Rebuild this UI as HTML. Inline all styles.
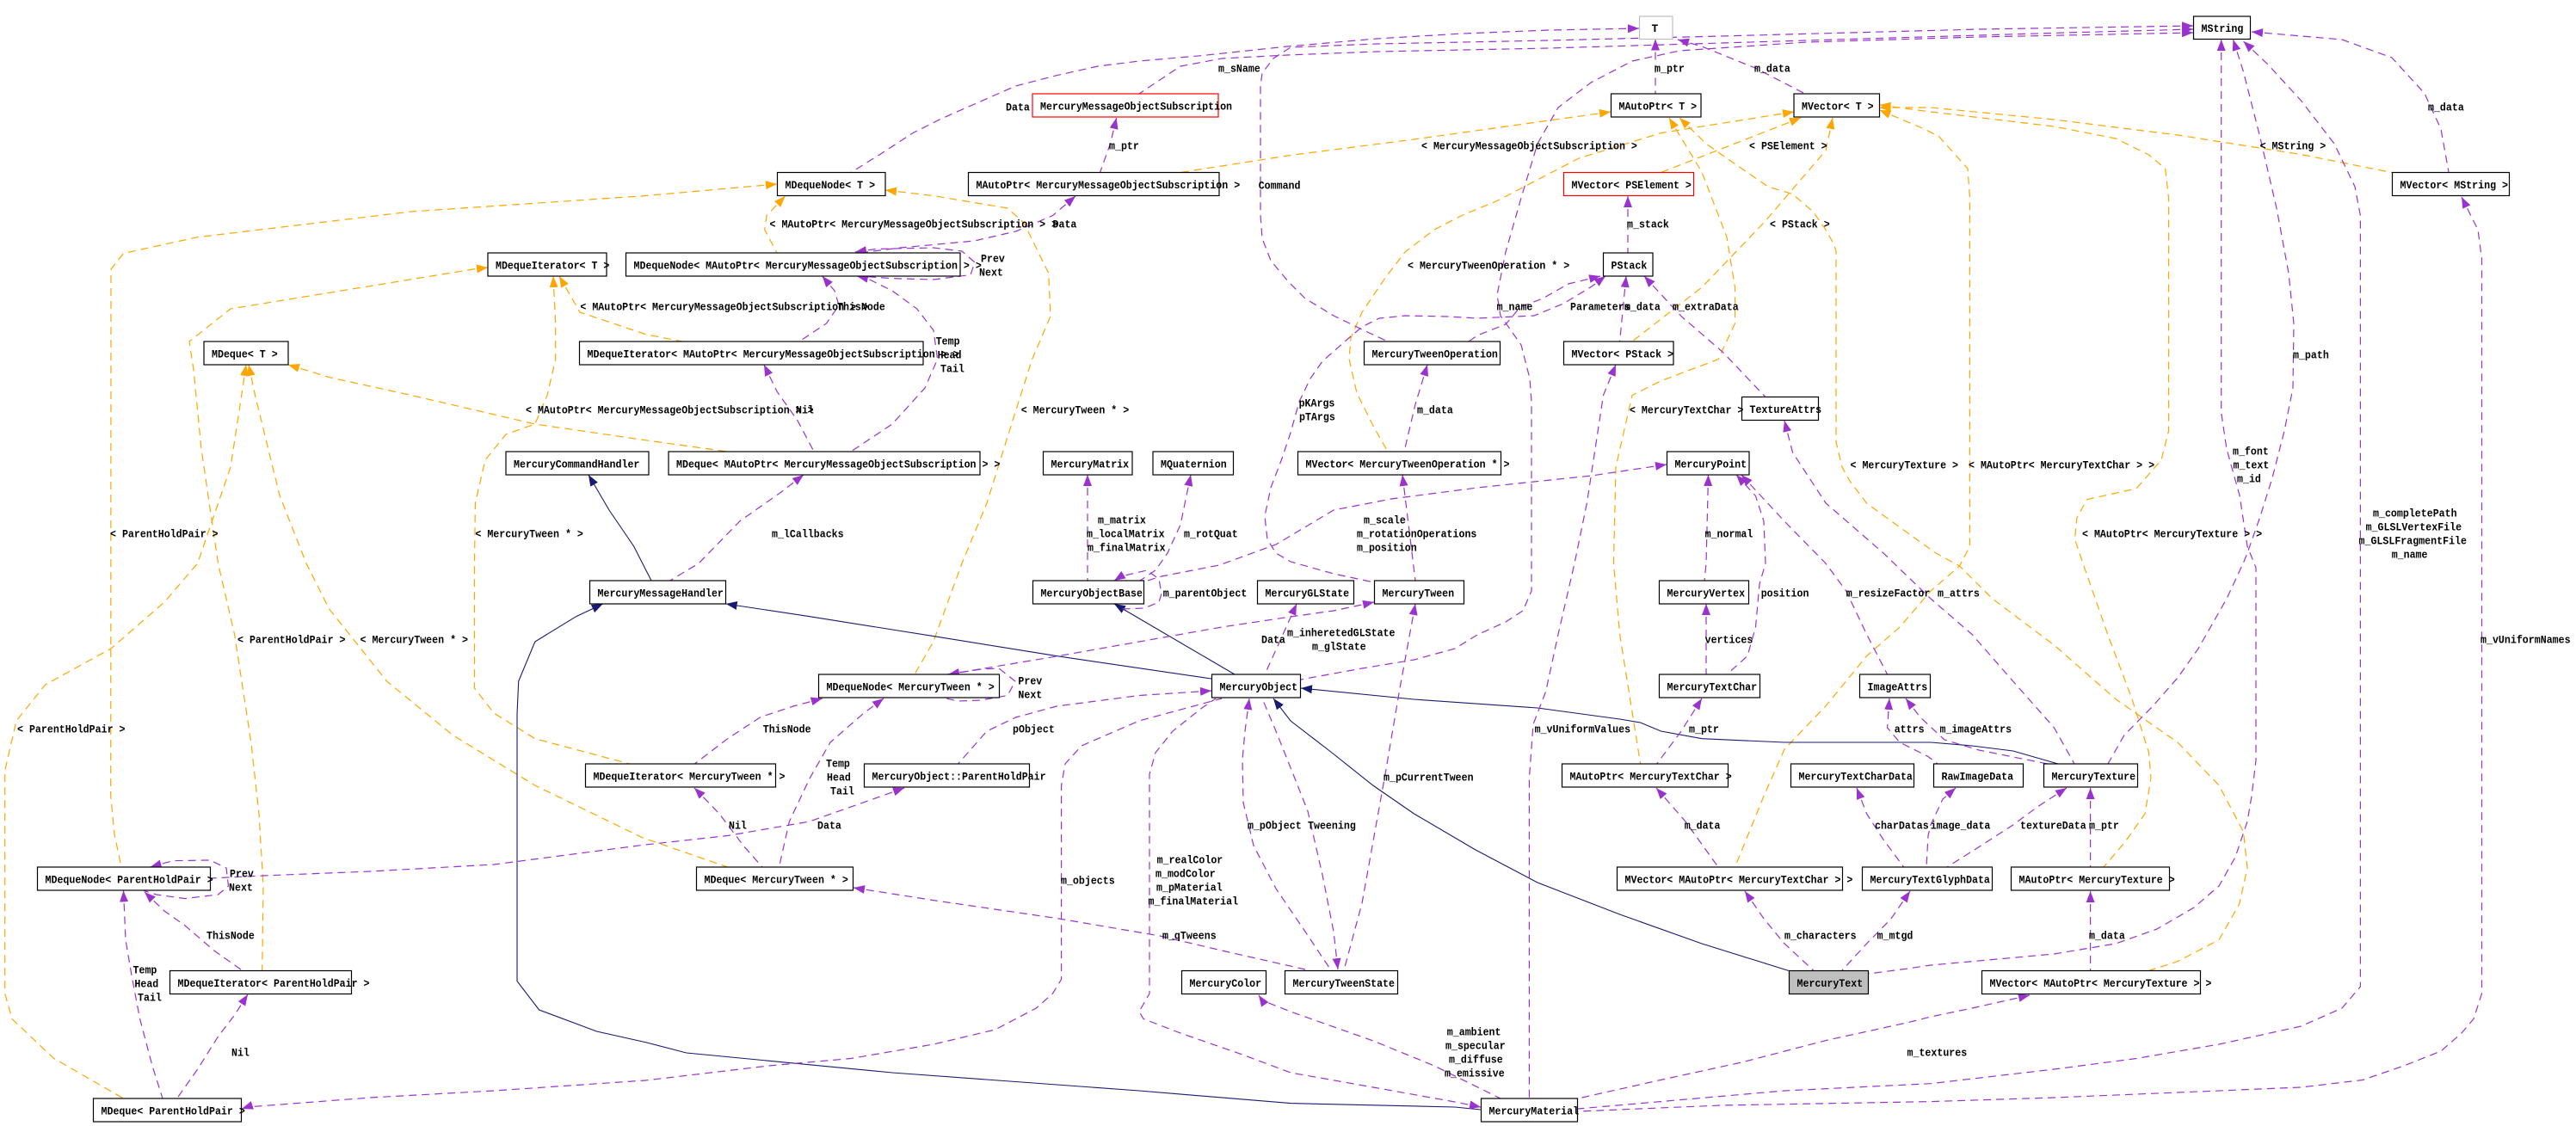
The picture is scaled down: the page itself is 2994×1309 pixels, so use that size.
<!DOCTYPE html>
<html><head><meta charset="utf-8"><style>
html,body{margin:0;padding:0;background:#fff;}
svg{display:block;}
.t{font-family:"Liberation Mono","DejaVu Sans Mono",monospace;font-size:13px;font-weight:bold;fill:#000;}
.p{fill:none;stroke:#9a32cd;stroke-width:1.2;stroke-dasharray:9,6;marker-start:url(#ap);}
.o{fill:none;stroke:#ffa500;stroke-width:1.2;stroke-dasharray:9,6;marker-start:url(#ao);}
.n{fill:none;stroke:#191970;stroke-width:1.1;marker-start:url(#an);}
.b{fill:#fff;stroke:#000;stroke-width:1.2;}
</style></head><body>
<svg width="2994" height="1309" viewBox="0 0 2994 1309" xmlns="http://www.w3.org/2000/svg">
<defs>
<marker id="ap" markerWidth="14" markerHeight="11" refX="13" refY="5" orient="auto-start-reverse" markerUnits="userSpaceOnUse"><path d="M0,0 L13,5 L0,10 z" fill="#9a32cd"/></marker>
<marker id="ao" markerWidth="14" markerHeight="11" refX="13" refY="5" orient="auto-start-reverse" markerUnits="userSpaceOnUse"><path d="M0,0 L13,5 L0,10 z" fill="#ffa500"/></marker>
<marker id="an" markerWidth="14" markerHeight="11" refX="13" refY="5" orient="auto-start-reverse" markerUnits="userSpaceOnUse"><path d="M0,0 L13,5 L0,10 z" fill="#191970"/></marker>
</defs>
<rect width="2994" height="1309" fill="#fff"/>

<!-- ORANGE EDGES -->
<path class="o" d="M903,214 L750,227.6 L478,246 L229.6,275.7 L143.5,294.5 L129,313 L128.7,925 L133,970 L141,1008"/>
<path class="o" d="M567,311 L550,313 L268,359 L220,397 L225,430 L234,522 L253.5,655 L272.6,737.5 L291.8,863 L301,946 L306,1030 L304.7,1128.5"/>
<path class="o" d="M286,424 L282,451 L268,543 L229.6,655 L191,700 L129,754 L52.6,796 L19,838 L5.7,896 L5.7,1155 L14,1184.5 L62,1230 L143.5,1277"/>
<path class="o" d="M289,424 L296.5,459.5 L325,576 L356,655 L382.6,708 L449.6,792 L526,854.5 L621.8,913 L746,973.5 L845.7,1008"/>
<path class="o" d="M643,321 L645.7,376 L645.7,417.7 L636,459.5 L621.8,493 L588,505 L564,534.7 L552.4,584.8 L551.5,655 L551.5,800 L574,829 L621.8,858.7 L731.8,888"/>
<path class="o" d="M650,321 L674,363 L750,388.5 L793,397"/>
<path class="o" d="M335,424 L382.6,438.6 L478,459.5 L621.8,493 L750,511.7 L845.7,525"/>
<path class="o" d="M912.6,228 L891,250.6 L888.7,267 L903,294"/>
<path class="o" d="M1029,221 L1085,227.6 L1171,242 L1190,259 L1218.7,317.5 L1221,367.6 L1199.6,417.7 L1175.7,493 L1147,584.8 L1118,655 L1084.8,746 L1063,784"/>
<path class="o" d="M1872,130 L1643.5,162 L1500,180.5 L1371.8,200.5"/>
<path class="o" d="M2085,130 L1930.5,154.6 L1835,184 L1739,234 L1700,250 L1667,267 L1633,293 L1610,323 L1583,363 L1570,393 L1568,417 L1577,457 L1597,497 L1613,525"/>
<path class="o" d="M2093,137 L1930.5,200.5"/>
<path class="o" d="M2130,137 L2122,175 L2050,259 L1978,334 L1897,397"/>
<path class="o" d="M1940,137 L1978,200 L2007,275.7 L2016.5,334 L2016.5,376 L1997,417.7 L1930.5,442.8 L1897,459.5 L1878,543 L1875.5,655 L1882.6,737.5 L1906.6,888"/>
<path class="o" d="M1952,137 L1983,167 L2007,184 L2031,200.5 L2055,217 L2083.5,225.6 L2107.5,246.4 L2122,267 L2131.5,284 L2134,292 L2134,514 L2141,543 L2150.5,560 L2169.6,585 L2198,605.7 L2227,626.6 L2250,643 L2277.5,658 L2315.7,696 L2387.5,750 L2459,812.7 L2531,863 L2579,913 L2607.5,967 L2612,1009 L2602.7,1051 L2579,1092.6 L2531,1117.7 L2497.5,1128.5"/>
<path class="o" d="M2184.5,128 L2236.6,150 L2253.6,158.7 L2287,196 L2289.4,230 L2289.4,635 L2277.5,658 L2244,687 L2208,729 L2169.6,762.6 L2121.8,821 L2074,871 L2050,925.5 L2016.5,1008"/>
<path class="o" d="M2184.5,122 L2244,130 L2387.5,147 L2459,161 L2497.5,180 L2516.6,196 L2520.5,230 L2520.5,501 L2512,534.7 L2483,568 L2425.8,580.6 L2414,601.5 L2411.4,626.6 L2421,655 L2449.7,737.5 L2478,812.7 L2497.5,875 L2500,904.6 L2493,946 L2469,980 L2445,1008"/>
<path class="o" d="M2184.5,125 L2244,125 L2387.5,139 L2531,157 L2674.5,179.6 L2780,200.5"/>

<!-- NAVY EDGES -->
<path class="n" d="M684,552 L708,593 L736.6,635 L757,675"/>
<path class="n" d="M843.7,702 L941,716.7 L1085,739.6 L1228,762.6 L1408,789"/>
<path class="n" d="M700.7,702 L669.6,716.7 L621.8,746 L602.7,792 L601,830 L601,1140.6 L626.6,1174 L693.5,1199 L750,1211.6 L797.8,1224 L1037,1247 L1324,1268 L1500,1282.6 L1691,1287 L1721,1290"/>
<path class="n" d="M1295,702 L1435,784"/>
<path class="n" d="M1480,812 L1500,838 L1548,875 L1595.7,913 L1643.5,946 L1715,988 L1787,1026 L1882.6,1063 L1978,1097 L2079,1128.5"/>
<path class="n" d="M1512,800 L1643.5,813 L1787,823 L1882.6,836 L1906.6,840 L1930.5,850 L1978,858.7 L2074,863 L2244,863 L2292,867 L2339.7,873 L2392,888"/>

<!-- PURPLE EDGES -->
<path class="p" d="M1905,33 L1800,35 L1700,39 L1600,45 L1496,54 L1396,64.7 L1324,71 L1276,77 L1228,87.7 L1180.5,100 L1132.6,121 L1094,138 L1061,154.6 L1022.6,179.6 L989,200.5"/>
<path class="p" d="M1924,45.5 L1924,109"/>
<path class="p" d="M1950,46 L1978,54 L2040,79 L2098,109"/>
<path class="p" d="M2549,34 L2400,38 L2200,44 L2000,50 L1800,56 L1600,60 L1496,64 L1420,68 L1372,77 L1324,109"/>
<path class="p" d="M2549,30 L2300,34 L2000,42 L1800,47 L1600,51 L1500,55 L1480,68 L1467,85 L1465,100 L1465,250 L1467,277 L1477,303 L1497,327 L1517,347 L1550,367 L1583,383 L1613,397"/>
<path class="p" d="M2549,38 L2300,43 L2100,49 L1952,59 L1897,71 L1849,96 L1811,125 L1787,167 L1768,230 L1750,293 L1740,343 L1744,367 L1768,401 L1778,440 L1780,467 L1780,687 L1770,710 L1750,723 L1717,738 L1691,754 L1643.5,767 L1583,777 L1550,783 L1512,790"/>
<path class="p" d="M2617,37 L2722,46 L2780,67 L2818,108.6 L2837,150 L2846,200"/>
<path class="p" d="M2595.5,46 L2607.5,83.5 L2626.6,158.7 L2646,242 L2660,317.5 L2666,376 L2665,451 L2655,501 L2641,555.6 L2626.6,601.5 L2612,643 L2607.5,654 L2588,696 L2555,754 L2531,788 L2502,821 L2469,854.5 L2450,888"/>
<path class="p" d="M2581.7,46 L2581.7,480 L2588,522 L2603,576 L2612,635 L2622,660 L2622,884 L2617,925.5 L2612,955 L2598,996.5 L2579,1030 L2550,1055 L2507,1080 L2459,1097 L2387.5,1109 L2292,1117.7 L2244,1122 L2217.5,1126 L2171.5,1132"/>
<path class="p" d="M2607.5,48 L2636,75 L2674.5,117 L2713,167 L2737,217 L2743.4,250.6 L2743.4,1147 L2722,1172 L2674.5,1193 L2579,1214 L2483,1230.5 L2387.5,1243 L2244,1259.7 L2074,1268 L1930,1280.6 L1834,1289"/>
<path class="p" d="M2861,229 L2880,267 L2884.5,301 L2884.5,1155 L2875,1184.5 L2861,1201 L2837,1222 L2794,1239 L2746,1255.5 L2674.5,1264 L2531,1270 L2387.5,1276 L2244,1280.6 L2000,1285 L1834,1292"/>
<path class="p" d="M2359,1157 L2292,1172 L2244,1182 L2217.5,1188.7 L2122,1209.6 L2026,1234.6 L1930,1255.5 L1834,1277"/>
<path class="p" d="M1892,228 L1892,294"/>
<path class="p" d="M1860,321 L1823,330 L1793,347 L1767,357 L1750,377 L1717,390 L1707,397"/>
<path class="p" d="M1866,321 L1850,333 L1817,353 L1783,367 L1717,370 L1683,368 L1633,367 L1603,370 L1583,380 L1563,397 L1537,420 L1523,440 L1510,467 L1500,503 L1490,533 L1477,567 L1470,600 L1473,627 L1483,643 L1500,653 L1550,667 L1597,677"/>
<path class="p" d="M1890,321 L1882.6,397"/>
<path class="p" d="M1911,321 L1954,367.6 L2002,409 L2052,461.6"/>
<path class="p" d="M1659,424 L1645,470 L1632,525"/>
<path class="p" d="M1630,552 L1634,585 L1645,675"/>
<path class="p" d="M1264,552 L1264,675"/>
<path class="p" d="M1384,552 L1372,610 L1357,643 L1343,663 L1325,675"/>
<path class="p" d="M1937,540 L1850,553 L1783,560 L1717,567 L1617,580 L1550,593 L1483,633 L1417,657 L1350,670 L1330,676"/>
<path class="p" d="M1295,675 L1303,670 L1333,663 L1347,673 L1350,690 L1347,700 L1330,707 L1303,708"/>
<path class="p" d="M1507,702 L1490,740 L1470,784"/>
<path class="p" d="M1597,700 L1550,710 L1500,717 L1420,729 L1324,746 L1228,763 L1132,779 L1101,784"/>
<path class="p" d="M1102,784 L1140,778 L1161,777 L1180,792 L1171,808.5 L1140,814 L1113,815 L1100,812"/>
<path class="p" d="M955.7,812 L922,821 L884,833.6 L845.7,858.7 L807.4,888"/>
<path class="p" d="M1027,812 L1003.5,829.4 L965,863 L941,905 L917.4,955 L905.5,1008"/>
<path class="p" d="M807,916 L812,921 L836,946 L864.8,984 L886,1008"/>
<path class="p" d="M992,1032 L1085,1046.6 L1228,1067.5 L1348,1088 L1420,1105 L1517,1127"/>
<path class="p" d="M1408,803 L1324,808.5 L1228,821 L1180.5,834 L1147,850 L1113.5,888"/>
<path class="p" d="M1051,916 L1037,921 L941,955 L845.7,971.5 L750,982 L574,1005 L430.5,1013 L306,1018 L244.4,1021"/>
<path class="p" d="M281,1289 L287,1287 L430.5,1276 L574,1268 L750,1256 L893.5,1239 L989,1230.5 L1085,1214 L1156.6,1197 L1204.4,1172 L1223.5,1155 L1233.6,1138.5 L1233.6,913 L1238,888 L1257,867 L1324,838 L1420,812"/>
<path class="p" d="M1721,1287 L1691,1281 L1596,1264 L1500,1247 L1444,1226 L1372,1201 L1329,1184.5 L1324,1176 L1336,1155 L1336,900 L1343,875 L1363,850 L1397,823 L1413,812"/>
<path class="p" d="M1463,1157 L1467,1163 L1500,1176 L1596,1210 L1667,1239 L1744,1277"/>
<path class="p" d="M1645,702 L1627,800 L1610,900 L1583,1050 L1562,1128"/>
<path class="p" d="M1452,812 L1447,850 L1444,883 L1445,933 L1457,983 L1483,1033 L1517,1083 L1547,1128"/>
<path class="p" d="M1555,1127 L1550,1083 L1537,1017 L1520,943 L1503,900 L1483,850 L1467,812"/>
<path class="p" d="M1878,424 L1863.5,459.5 L1854,522 L1844.4,584.8 L1830,655 L1811,737.5 L1796.6,804 L1782,842 L1777.4,904.6 L1777.4,1277"/>
<path class="p" d="M1985.5,552 L1983,655 L1981,675"/>
<path class="p" d="M1983,702 L1983,784"/>
<path class="p" d="M2018,552 L2040.5,576.5 L2050,606 L2052,655 L2045,679 L2040.5,729 L2031,762.6 L2007,784"/>
<path class="p" d="M2024,552 L2074,606 L2122,655 L2145.7,687 L2169.6,737.5 L2193.6,784"/>
<path class="p" d="M1978,812 L1954,850 L1925.7,888"/>
<path class="p" d="M1925,916 L1959,955 L1997,1008"/>
<path class="p" d="M2028,1036 L2050,1068 L2074,1097 L2107.5,1128"/>
<path class="p" d="M2220,1036 L2198,1068 L2169.6,1097 L2141,1128"/>
<path class="p" d="M2158,916 L2169.6,946 L2188.7,975.6 L2212.7,1008"/>
<path class="p" d="M2273,916 L2258,929 L2244,959 L2241,971.5 L2239,1008"/>
<path class="p" d="M2402,916 L2368,938 L2339.7,959 L2301,984 L2263,1008"/>
<path class="p" d="M2429.6,916 L2429.6,1008"/>
<path class="p" d="M2429.6,1036 L2429.6,1128"/>
<path class="p" d="M2196,812 L2193.6,846 L2208,863 L2241,879.5 L2252,888"/>
<path class="p" d="M2215,812 L2232,834 L2260,860 L2300,872 L2380,888"/>
<path class="p" d="M2074,489 L2083.5,526 L2122,584.8 L2189,643 L2244,696 L2292,737.5 L2339.7,792 L2387.5,846 L2411,888"/>
<path class="p" d="M994,293 L1018,289.5 L1085,288 L1118,292 L1133,305 L1128,319.5 L1085,325 L1037,323.7 L999,321"/>
<path class="p" d="M1250,228 L1223.5,250.6 L1180.5,269 L1132.6,280 L1046.6,288 L998.7,294"/>
<path class="p" d="M1297.6,137 L1290.5,167 L1278.5,200.5"/>
<path class="p" d="M955.7,321 L970,338 L975,355 L960.5,376 L929,397"/>
<path class="p" d="M996,321 L1008,323.7 L1037,338 L1065.7,359 L1085,384 L1089.6,417.7 L1075,451 L1037,493 L989,525"/>
<path class="p" d="M888,424 L903,455 L927,489 L946,525"/>
<path class="p" d="M934,552 L908,572 L860,605.7 L812,655 L778.7,675"/>
<path class="p" d="M174.6,1008 L201,1000.6 L244,1000 L263,1009 L265.5,1030 L253.5,1040 L215,1044.6 L181.8,1040 L167,1035.4"/>
<path class="p" d="M143.5,1035.4 L146,1092.6 L153,1134 L162.6,1184.5 L177,1239 L189,1277"/>
<path class="p" d="M168,1037 L191,1059 L215,1076 L248.7,1105 L282,1128.5"/>
<path class="p" d="M288,1156 L272.6,1180 L253.5,1205 L229.6,1243 L205.7,1277"/>

<!-- BOXES -->
<rect x="1905.5" y="19" width="38.5" height="26.5" fill="#fff" stroke="#bfbfbf" stroke-width="1.2"/><text class="t" x="1919.5" y="37">T</text>
<rect class="b" x="2549.5" y="19" width="66" height="26.5"/><text class="t" x="2558.5" y="37" textLength="48.8" lengthAdjust="spacingAndGlyphs">MString</text>
<rect x="1200" y="109" width="216" height="27" fill="#fff" stroke="#ff0000" stroke-width="1.2"/><text class="t" x="1209" y="127.7" textLength="223" lengthAdjust="spacingAndGlyphs">MercuryMessageObjectSubscription</text>
<rect class="b" x="1872.5" y="109" width="104.5" height="27"/><text class="t" x="1881.5" y="127.7" textLength="90.6" lengthAdjust="spacingAndGlyphs">MAutoPtr&lt; T &gt;</text>
<rect class="b" x="2085" y="109" width="99.5" height="27"/><text class="t" x="2094" y="127.7" textLength="83.6" lengthAdjust="spacingAndGlyphs">MVector&lt; T &gt;</text>
<rect class="b" x="903.5" y="200.5" width="125.5" height="27"/><text class="t" x="912.5" y="219.2" textLength="104.6" lengthAdjust="spacingAndGlyphs">MDequeNode&lt; T &gt;</text>
<rect class="b" x="1125.5" y="200.5" width="291.5" height="27"/><text class="t" x="1134.5" y="219.2" textLength="306.7" lengthAdjust="spacingAndGlyphs">MAutoPtr&lt; MercuryMessageObjectSubscription &gt;</text>
<rect x="1817.5" y="200.5" width="151" height="27" fill="#fff" stroke="#ff0000" stroke-width="1.2"/><text class="t" x="1826.5" y="219.2" textLength="139.4" lengthAdjust="spacingAndGlyphs">MVector&lt; PSElement &gt;</text>
<rect class="b" x="2780.5" y="200.5" width="136" height="27"/><text class="t" x="2789.5" y="219.2" textLength="125.5" lengthAdjust="spacingAndGlyphs">MVector&lt; MString &gt;</text>
<rect class="b" x="567" y="294" width="138" height="27"/><text class="t" x="576" y="312.7" textLength="132.4" lengthAdjust="spacingAndGlyphs">MDequeIterator&lt; T &gt;</text>
<rect class="b" x="727.5" y="294" width="388.5" height="27"/><text class="t" x="736.5" y="312.7" textLength="404.3" lengthAdjust="spacingAndGlyphs">MDequeNode&lt; MAutoPtr&lt; MercuryMessageObjectSubscription &gt; &gt;</text>
<rect class="b" x="1863.5" y="294" width="57.5" height="27"/><text class="t" x="1872.5" y="312.7" textLength="41.8" lengthAdjust="spacingAndGlyphs">PStack</text>
<rect class="b" x="237" y="397" width="98" height="27"/><text class="t" x="246" y="415.7" textLength="76.7" lengthAdjust="spacingAndGlyphs">MDeque&lt; T &gt;</text>
<rect class="b" x="673.5" y="397" width="399.5" height="27"/><text class="t" x="682.5" y="415.7" textLength="432.1" lengthAdjust="spacingAndGlyphs">MDequeIterator&lt; MAutoPtr&lt; MercuryMessageObjectSubscription &gt; &gt;</text>
<rect class="b" x="1585.5" y="397" width="158" height="27"/><text class="t" x="1594.5" y="415.7" textLength="146.4" lengthAdjust="spacingAndGlyphs">MercuryTweenOperation</text>
<rect class="b" x="1817.5" y="397" width="127.5" height="27"/><text class="t" x="1826.5" y="415.7" textLength="118.5" lengthAdjust="spacingAndGlyphs">MVector&lt; PStack &gt;</text>
<rect class="b" x="2024.5" y="461.5" width="89" height="27"/><text class="t" x="2033.5" y="480.2" textLength="83.6" lengthAdjust="spacingAndGlyphs">TextureAttrs</text>
<rect class="b" x="588" y="525" width="166" height="27"/><text class="t" x="597" y="543.7" textLength="146.4" lengthAdjust="spacingAndGlyphs">MercuryCommandHandler</text>
<rect class="b" x="777" y="525" width="362" height="27"/><text class="t" x="786" y="543.7" textLength="376.4" lengthAdjust="spacingAndGlyphs">MDeque&lt; MAutoPtr&lt; MercuryMessageObjectSubscription &gt; &gt;</text>
<rect class="b" x="1212.5" y="525" width="103.5" height="27"/><text class="t" x="1221.5" y="543.7" textLength="90.6" lengthAdjust="spacingAndGlyphs">MercuryMatrix</text>
<rect class="b" x="1340" y="525" width="93.5" height="27"/><text class="t" x="1349" y="543.7" textLength="76.7" lengthAdjust="spacingAndGlyphs">MQuaternion</text>
<rect class="b" x="1508.5" y="525" width="236" height="27"/><text class="t" x="1517.5" y="543.7" textLength="237" lengthAdjust="spacingAndGlyphs">MVector&lt; MercuryTweenOperation * &gt;</text>
<rect class="b" x="1937.5" y="525" width="95.5" height="27"/><text class="t" x="1946.5" y="543.7" textLength="83.6" lengthAdjust="spacingAndGlyphs">MercuryPoint</text>
<rect class="b" x="685.5" y="675" width="158" height="27"/><text class="t" x="694.5" y="693.7" textLength="146.4" lengthAdjust="spacingAndGlyphs">MercuryMessageHandler</text>
<rect class="b" x="1200.5" y="675" width="129" height="27"/><text class="t" x="1209.5" y="693.7" textLength="118.5" lengthAdjust="spacingAndGlyphs">MercuryObjectBase</text>
<rect class="b" x="1461.5" y="675" width="112" height="27"/><text class="t" x="1470.5" y="693.7" textLength="97.6" lengthAdjust="spacingAndGlyphs">MercuryGLState</text>
<rect class="b" x="1597.5" y="675" width="104" height="27"/><text class="t" x="1606.5" y="693.7" textLength="83.6" lengthAdjust="spacingAndGlyphs">MercuryTween</text>
<rect class="b" x="1928.5" y="675" width="104" height="27"/><text class="t" x="1937.5" y="693.7" textLength="90.6" lengthAdjust="spacingAndGlyphs">MercuryVertex</text>
<rect class="b" x="951.5" y="784" width="210" height="27"/><text class="t" x="960.5" y="802.7" textLength="195.2" lengthAdjust="spacingAndGlyphs">MDequeNode&lt; MercuryTween * &gt;</text>
<rect class="b" x="1408.5" y="784" width="103" height="27"/><text class="t" x="1417.5" y="802.7" textLength="90.6" lengthAdjust="spacingAndGlyphs">MercuryObject</text>
<rect class="b" x="1928.5" y="784" width="117" height="27"/><text class="t" x="1937.5" y="802.7" textLength="104.6" lengthAdjust="spacingAndGlyphs">MercuryTextChar</text>
<rect class="b" x="2161.5" y="784" width="82" height="27"/><text class="t" x="2170.5" y="802.7" textLength="69.7" lengthAdjust="spacingAndGlyphs">ImageAttrs</text>
<rect class="b" x="680.5" y="888" width="221" height="27"/><text class="t" x="689.5" y="906.7" textLength="223" lengthAdjust="spacingAndGlyphs">MDequeIterator&lt; MercuryTween * &gt;</text>
<rect class="b" x="1004.5" y="888" width="192" height="27"/><text class="t" x="1013.5" y="906.7" textLength="202.1" lengthAdjust="spacingAndGlyphs">MercuryObject::ParentHoldPair</text>
<rect class="b" x="1815.5" y="888" width="193" height="27"/><text class="t" x="1824.5" y="906.7" textLength="188.2" lengthAdjust="spacingAndGlyphs">MAutoPtr&lt; MercuryTextChar &gt;</text>
<rect class="b" x="2081.5" y="888" width="143" height="27"/><text class="t" x="2090.5" y="906.7" textLength="132.4" lengthAdjust="spacingAndGlyphs">MercuryTextCharData</text>
<rect class="b" x="2247.5" y="888" width="104" height="27"/><text class="t" x="2256.5" y="906.7" textLength="83.6" lengthAdjust="spacingAndGlyphs">RawImageData</text>
<rect class="b" x="2375.5" y="888" width="109" height="27"/><text class="t" x="2384.5" y="906.7" textLength="97.6" lengthAdjust="spacingAndGlyphs">MercuryTexture</text>
<rect class="b" x="43.5" y="1008" width="201" height="27"/><text class="t" x="52.5" y="1026.7" textLength="195.2" lengthAdjust="spacingAndGlyphs">MDequeNode&lt; ParentHoldPair &gt;</text>
<rect class="b" x="809.5" y="1008" width="182" height="27"/><text class="t" x="818.5" y="1026.7" textLength="167.3" lengthAdjust="spacingAndGlyphs">MDeque&lt; MercuryTween * &gt;</text>
<rect class="b" x="1879.5" y="1008" width="262" height="27"/><text class="t" x="1888.5" y="1026.7" textLength="264.9" lengthAdjust="spacingAndGlyphs">MVector&lt; MAutoPtr&lt; MercuryTextChar &gt; &gt;</text>
<rect class="b" x="2164.5" y="1008" width="151" height="27"/><text class="t" x="2173.5" y="1026.7" textLength="139.4" lengthAdjust="spacingAndGlyphs">MercuryTextGlyphData</text>
<rect class="b" x="2337.5" y="1008" width="184" height="27"/><text class="t" x="2346.5" y="1026.7" textLength="181.2" lengthAdjust="spacingAndGlyphs">MAutoPtr&lt; MercuryTexture &gt;</text>
<rect class="b" x="197.5" y="1128.5" width="211" height="27"/><text class="t" x="206.5" y="1147.2" textLength="223" lengthAdjust="spacingAndGlyphs">MDequeIterator&lt; ParentHoldPair &gt;</text>
<rect class="b" x="1373.5" y="1128.5" width="98" height="27"/><text class="t" x="1382.5" y="1147.2" textLength="83.6" lengthAdjust="spacingAndGlyphs">MercuryColor</text>
<rect class="b" x="1493.5" y="1128.5" width="131" height="27"/><text class="t" x="1502.5" y="1147.2" textLength="118.5" lengthAdjust="spacingAndGlyphs">MercuryTweenState</text>
<rect x="2079.5" y="1128.5" width="92" height="27" fill="#bfbfbf" stroke="#000" stroke-width="1.2"/><text class="t" x="2088.5" y="1147.2" textLength="76.7" lengthAdjust="spacingAndGlyphs">MercuryText</text>
<rect class="b" x="2303.5" y="1128.5" width="254" height="27"/><text class="t" x="2312.5" y="1147.2" textLength="257.9" lengthAdjust="spacingAndGlyphs">MVector&lt; MAutoPtr&lt; MercuryTexture &gt; &gt;</text>
<rect class="b" x="108.5" y="1277" width="172" height="27"/><text class="t" x="117.5" y="1295.7" textLength="167.3" lengthAdjust="spacingAndGlyphs">MDeque&lt; ParentHoldPair &gt;</text>
<rect class="b" x="1721.5" y="1277" width="112" height="27"/><text class="t" x="1730.5" y="1295.7" textLength="104.6" lengthAdjust="spacingAndGlyphs">MercuryMaterial</text>

<!-- EDGE LABELS -->
<g class="t">
<text x="1169" y="128.6" textLength="27.9" lengthAdjust="spacingAndGlyphs">Data</text>
<text x="1416" y="83.6" textLength="48.8" lengthAdjust="spacingAndGlyphs">m_sName</text>
<text x="1289" y="173.6" textLength="34.9" lengthAdjust="spacingAndGlyphs">m_ptr</text>
<text x="1462.7" y="219.6" textLength="48.8" lengthAdjust="spacingAndGlyphs">Command</text>
<text x="1923" y="83.6" textLength="34.9" lengthAdjust="spacingAndGlyphs">m_ptr</text>
<text x="2039" y="83.6" textLength="41.8" lengthAdjust="spacingAndGlyphs">m_data</text>
<text x="1652" y="173.6" textLength="250.9" lengthAdjust="spacingAndGlyphs">&lt; MercuryMessageObjectSubscription &gt;</text>
<text x="2033" y="173.6" textLength="90.6" lengthAdjust="spacingAndGlyphs">&lt; PSElement &gt;</text>
<text x="2626.6" y="173.6" textLength="76.7" lengthAdjust="spacingAndGlyphs">&lt; MString &gt;</text>
<text x="2822" y="128.6" textLength="41.8" lengthAdjust="spacingAndGlyphs">m_data</text>
<text x="894.5" y="264.6" textLength="334.6" lengthAdjust="spacingAndGlyphs">&lt; MAutoPtr&lt; MercuryMessageObjectSubscription &gt; &gt;</text>
<text x="1223.5" y="264.6" textLength="27.9" lengthAdjust="spacingAndGlyphs">Data</text>
<text x="1891" y="264.6" textLength="48.8" lengthAdjust="spacingAndGlyphs">m_stack</text>
<text x="2057" y="264.6" textLength="69.7" lengthAdjust="spacingAndGlyphs">&lt; PStack &gt;</text>
<text x="1140" y="304.6" textLength="27.9" lengthAdjust="spacingAndGlyphs">Prev</text>
<text x="1138" y="320.6" textLength="27.9" lengthAdjust="spacingAndGlyphs">Next</text>
<text x="1636" y="312.6" textLength="188.2" lengthAdjust="spacingAndGlyphs">&lt; MercuryTweenOperation * &gt;</text>
<text x="674.4" y="360.6" textLength="334.6" lengthAdjust="spacingAndGlyphs">&lt; MAutoPtr&lt; MercuryMessageObjectSubscription &gt; &gt;</text>
<text x="973" y="360.6" textLength="55.8" lengthAdjust="spacingAndGlyphs">ThisNode</text>
<text x="1739.6" y="360.6" textLength="41.8" lengthAdjust="spacingAndGlyphs">m_name</text>
<text x="1825" y="360.6" textLength="69.7" lengthAdjust="spacingAndGlyphs">Parameters</text>
<text x="1888" y="360.6" textLength="41.8" lengthAdjust="spacingAndGlyphs">m_data</text>
<text x="1944" y="360.6" textLength="76.7" lengthAdjust="spacingAndGlyphs">m_extraData</text>
<text x="1087.7" y="400.6" textLength="27.9" lengthAdjust="spacingAndGlyphs">Temp</text>
<text x="1089.6" y="416.6" textLength="27.9" lengthAdjust="spacingAndGlyphs">Head</text>
<text x="1093" y="432.6" textLength="27.9" lengthAdjust="spacingAndGlyphs">Tail</text>
<text x="2665" y="416.6" textLength="41.8" lengthAdjust="spacingAndGlyphs">m_path</text>
<text x="1509.6" y="472.6" textLength="41.8" lengthAdjust="spacingAndGlyphs">pKArgs</text>
<text x="1510" y="488.6" textLength="41.8" lengthAdjust="spacingAndGlyphs">pTArgs</text>
<text x="611" y="480.6" textLength="334.6" lengthAdjust="spacingAndGlyphs">&lt; MAutoPtr&lt; MercuryMessageObjectSubscription &gt; &gt;</text>
<text x="925" y="480.6" textLength="20.9" lengthAdjust="spacingAndGlyphs">Nil</text>
<text x="1186.7" y="480.6" textLength="125.5" lengthAdjust="spacingAndGlyphs">&lt; MercuryTween * &gt;</text>
<text x="1647" y="480.6" textLength="41.8" lengthAdjust="spacingAndGlyphs">m_data</text>
<text x="1894" y="480.6" textLength="132.4" lengthAdjust="spacingAndGlyphs">&lt; MercuryTextChar &gt;</text>
<text x="2595" y="528.6" textLength="41.8" lengthAdjust="spacingAndGlyphs">m_font</text>
<text x="2150.5" y="544.6" textLength="125.5" lengthAdjust="spacingAndGlyphs">&lt; MercuryTexture &gt;</text>
<text x="2288" y="544.6" textLength="216.1" lengthAdjust="spacingAndGlyphs">&lt; MAutoPtr&lt; MercuryTextChar &gt; &gt;</text>
<text x="2595.5" y="544.6" textLength="41.8" lengthAdjust="spacingAndGlyphs">m_text</text>
<text x="2600" y="560.6" textLength="27.9" lengthAdjust="spacingAndGlyphs">m_id</text>
<text x="2758" y="600.6" textLength="97.6" lengthAdjust="spacingAndGlyphs">m_completePath</text>
<text x="2749.6" y="616.6" textLength="111.5" lengthAdjust="spacingAndGlyphs">m_GLSLVertexFile</text>
<text x="2741.5" y="632.6" textLength="125.5" lengthAdjust="spacingAndGlyphs">m_GLSLFragmentFile</text>
<text x="2779.7" y="648.6" textLength="41.8" lengthAdjust="spacingAndGlyphs">m_name</text>
<text x="1276" y="608.6" textLength="55.8" lengthAdjust="spacingAndGlyphs">m_matrix</text>
<text x="1263" y="624.6" textLength="90.6" lengthAdjust="spacingAndGlyphs">m_localMatrix</text>
<text x="1264" y="640.6" textLength="90.6" lengthAdjust="spacingAndGlyphs">m_finalMatrix</text>
<text x="1376" y="624.6" textLength="62.7" lengthAdjust="spacingAndGlyphs">m_rotQuat</text>
<text x="1585" y="608.6" textLength="48.8" lengthAdjust="spacingAndGlyphs">m_scale</text>
<text x="1577" y="624.6" textLength="139.4" lengthAdjust="spacingAndGlyphs">m_rotationOperations</text>
<text x="1577" y="640.6" textLength="69.7" lengthAdjust="spacingAndGlyphs">m_position</text>
<text x="1981.6" y="624.6" textLength="55.8" lengthAdjust="spacingAndGlyphs">m_normal</text>
<text x="897" y="624.6" textLength="83.6" lengthAdjust="spacingAndGlyphs">m_lCallbacks</text>
<text x="128" y="624.6" textLength="125.5" lengthAdjust="spacingAndGlyphs">&lt; ParentHoldPair &gt;</text>
<text x="552.4" y="624.6" textLength="125.5" lengthAdjust="spacingAndGlyphs">&lt; MercuryTween * &gt;</text>
<text x="2420" y="624.6" textLength="209.1" lengthAdjust="spacingAndGlyphs">&lt; MAutoPtr&lt; MercuryTexture &gt; &gt;</text>
<text x="1351.7" y="693.6" textLength="97.6" lengthAdjust="spacingAndGlyphs">m_parentObject</text>
<text x="2046.7" y="693.6" textLength="55.8" lengthAdjust="spacingAndGlyphs">position</text>
<text x="2145.7" y="693.6" textLength="97.6" lengthAdjust="spacingAndGlyphs">m_resizeFactor</text>
<text x="2252" y="693.6" textLength="48.8" lengthAdjust="spacingAndGlyphs">m_attrs</text>
<text x="1496" y="739.6" textLength="125.5" lengthAdjust="spacingAndGlyphs">m_inheretedGLState</text>
<text x="1525" y="755.6" textLength="62.7" lengthAdjust="spacingAndGlyphs">m_glState</text>
<text x="1466" y="747.6" textLength="27.9" lengthAdjust="spacingAndGlyphs">Data</text>
<text x="1981.6" y="747.6" textLength="55.8" lengthAdjust="spacingAndGlyphs">vertices</text>
<text x="276" y="747.6" textLength="125.5" lengthAdjust="spacingAndGlyphs">&lt; ParentHoldPair &gt;</text>
<text x="418.5" y="747.6" textLength="125.5" lengthAdjust="spacingAndGlyphs">&lt; MercuryTween * &gt;</text>
<text x="2883" y="747.6" textLength="104.6" lengthAdjust="spacingAndGlyphs">m_vUniformNames</text>
<text x="1183.4" y="795.6" textLength="27.9" lengthAdjust="spacingAndGlyphs">Prev</text>
<text x="1183.4" y="811.6" textLength="27.9" lengthAdjust="spacingAndGlyphs">Next</text>
<text x="20" y="851.6" textLength="125.5" lengthAdjust="spacingAndGlyphs">&lt; ParentHoldPair &gt;</text>
<text x="886.8" y="851.6" textLength="55.8" lengthAdjust="spacingAndGlyphs">ThisNode</text>
<text x="1177" y="851.6" textLength="48.8" lengthAdjust="spacingAndGlyphs">pObject</text>
<text x="1783.6" y="851.6" textLength="111.5" lengthAdjust="spacingAndGlyphs">m_vUniformValues</text>
<text x="1963" y="851.6" textLength="34.9" lengthAdjust="spacingAndGlyphs">m_ptr</text>
<text x="2201.7" y="851.6" textLength="34.9" lengthAdjust="spacingAndGlyphs">attrs</text>
<text x="2254.5" y="851.6" textLength="83.6" lengthAdjust="spacingAndGlyphs">m_imageAttrs</text>
<text x="960" y="891.6" textLength="27.9" lengthAdjust="spacingAndGlyphs">Temp</text>
<text x="961" y="907.6" textLength="27.9" lengthAdjust="spacingAndGlyphs">Head</text>
<text x="965" y="923.6" textLength="27.9" lengthAdjust="spacingAndGlyphs">Tail</text>
<text x="1608" y="907.6" textLength="104.6" lengthAdjust="spacingAndGlyphs">m_pCurrentTween</text>
<text x="847" y="963.6" textLength="20.9" lengthAdjust="spacingAndGlyphs">Nil</text>
<text x="950" y="963.6" textLength="27.9" lengthAdjust="spacingAndGlyphs">Data</text>
<text x="1450" y="963.6" textLength="62.7" lengthAdjust="spacingAndGlyphs">m_pObject</text>
<text x="1520" y="963.6" textLength="55.8" lengthAdjust="spacingAndGlyphs">Tweening</text>
<text x="1957.7" y="963.6" textLength="41.8" lengthAdjust="spacingAndGlyphs">m_data</text>
<text x="2179" y="963.6" textLength="62.7" lengthAdjust="spacingAndGlyphs">charDatas</text>
<text x="2243.7" y="963.6" textLength="69.7" lengthAdjust="spacingAndGlyphs">image_data</text>
<text x="2348" y="963.6" textLength="76.7" lengthAdjust="spacingAndGlyphs">textureData</text>
<text x="2428" y="963.6" textLength="34.9" lengthAdjust="spacingAndGlyphs">m_ptr</text>
<text x="1344.6" y="1003.6" textLength="76.7" lengthAdjust="spacingAndGlyphs">m_realColor</text>
<text x="1343" y="1019.6" textLength="69.7" lengthAdjust="spacingAndGlyphs">m_modColor</text>
<text x="1344" y="1035.6" textLength="76.7" lengthAdjust="spacingAndGlyphs">m_pMaterial</text>
<text x="1334.5" y="1051.6" textLength="104.6" lengthAdjust="spacingAndGlyphs">m_finalMaterial</text>
<text x="267" y="1019.6" textLength="27.9" lengthAdjust="spacingAndGlyphs">Prev</text>
<text x="266" y="1035.6" textLength="27.9" lengthAdjust="spacingAndGlyphs">Next</text>
<text x="1233" y="1027.6" textLength="62.7" lengthAdjust="spacingAndGlyphs">m_objects</text>
<text x="240" y="1091.6" textLength="55.8" lengthAdjust="spacingAndGlyphs">ThisNode</text>
<text x="1351" y="1091.6" textLength="62.7" lengthAdjust="spacingAndGlyphs">m_qTweens</text>
<text x="2074" y="1091.6" textLength="83.6" lengthAdjust="spacingAndGlyphs">m_characters</text>
<text x="2181.6" y="1091.6" textLength="41.8" lengthAdjust="spacingAndGlyphs">m_mtgd</text>
<text x="2428" y="1091.6" textLength="41.8" lengthAdjust="spacingAndGlyphs">m_data</text>
<text x="154.5" y="1131.6" textLength="27.9" lengthAdjust="spacingAndGlyphs">Temp</text>
<text x="156.4" y="1147.6" textLength="27.9" lengthAdjust="spacingAndGlyphs">Head</text>
<text x="160" y="1163.6" textLength="27.9" lengthAdjust="spacingAndGlyphs">Tail</text>
<text x="1681.8" y="1203.6" textLength="62.7" lengthAdjust="spacingAndGlyphs">m_ambient</text>
<text x="1680" y="1219.6" textLength="69.7" lengthAdjust="spacingAndGlyphs">m_specular</text>
<text x="1684" y="1235.6" textLength="62.7" lengthAdjust="spacingAndGlyphs">m_diffuse</text>
<text x="1679" y="1251.6" textLength="69.7" lengthAdjust="spacingAndGlyphs">m_emissive</text>
<text x="269" y="1227.6" textLength="20.9" lengthAdjust="spacingAndGlyphs">Nil</text>
<text x="2216.5" y="1227.6" textLength="69.7" lengthAdjust="spacingAndGlyphs">m_textures</text>
</g>
</svg>
</body></html>
